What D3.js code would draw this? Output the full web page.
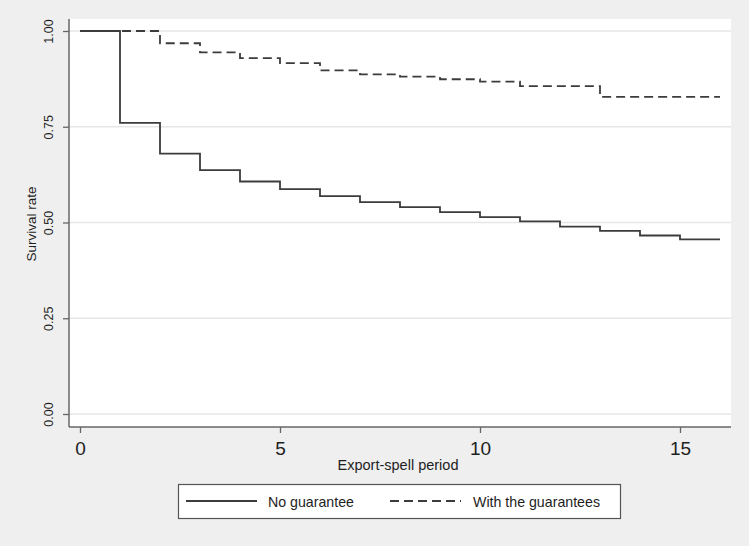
<!DOCTYPE html>
<html>
<head>
<meta charset="utf-8">
<script src="https://cdn.jsdelivr.net/npm/d3@7"></script>
<style>
  body { margin: 0; background: #efefef; }
  svg { display: block; font-family: "Liberation Sans", Arial, sans-serif; }
  .axis text { fill: #1e1e1e; }
</style>
</head>
<body>
<svg id="chart" width="749" height="546"></svg>
<script>
// survival estimates by export-spell period
const periods = [0, 1, 2, 3, 4, 5, 6, 7, 8, 9, 10, 11, 12, 13, 14, 15, 16]
const noGuarantee = [1.0, 0.760, 0.680, 0.637, 0.607, 0.587, 0.569, 0.553, 0.540, 0.527, 0.514, 0.503, 0.489, 0.478, 0.466, 0.456, 0.456]
const withGuarantees = [1.0, 1.0, 0.968, 0.944, 0.929, 0.916, 0.897, 0.887, 0.881, 0.874, 0.868, 0.856, 0.856, 0.828, 0.828, 0.828, 0.828]
const yTicks = [0, 0.25, 0.5, 0.75, 1]
const xTicks = [0, 5, 10, 15]
const seriesNames = ["No guarantee", "With the guarantees"]

const svg = d3.select("#chart")
const plot = {left: 69, right: 731, top: 19, bottom: 427}

const x = d3.scaleLinear().domain([0, 16]).range([80, 720])
const y = d3.scaleLinear().domain([0, 1]).range([414, 31])

// plot region
svg.append("rect")
  .attr("x", plot.left).attr("y", plot.top)
  .attr("width", plot.right - plot.left).attr("height", plot.bottom - plot.top)
  .attr("fill", "#fff")

// grid
svg.append("g").selectAll("line").data(yTicks).join("line")
  .attr("x1", plot.left).attr("x2", plot.right)
  .attr("y1", d => y(d)).attr("y2", d => y(d))
  .attr("stroke", "#e6e6e6").attr("stroke-width", 1.5)

// y axis
const yAxis = svg.append("g").attr("class", "axis")
  .attr("transform", `translate(${plot.left},0)`)
  .call(d3.axisLeft(y).tickValues(yTicks).tickFormat(d3.format(".2f")).tickSize(6).tickPadding(4))
yAxis.select(".domain").remove()
yAxis.selectAll(".tick line").attr("stroke", "#666").attr("stroke-width", 1.3)
yAxis.selectAll(".tick text")
  .attr("font-size", 12.5)
  .attr("transform", "rotate(-90)")
  .attr("x", 0).attr("y", -16)
  .attr("dy", 0)
  .attr("text-anchor", "middle")

// x axis
const xAxis = svg.append("g").attr("class", "axis")
  .attr("transform", `translate(0,${plot.bottom})`)
  .call(d3.axisBottom(x).tickValues(xTicks).tickSize(6).tickPadding(9))
xAxis.select(".domain").remove()
xAxis.selectAll(".tick line").attr("stroke", "#666").attr("stroke-width", 1.3)
xAxis.selectAll(".tick text").attr("font-size", 19)

// axis lines
svg.append("line")
  .attr("x1", plot.left).attr("x2", plot.left)
  .attr("y1", plot.top).attr("y2", plot.bottom)
  .attr("stroke", "#666").attr("stroke-width", 1.5)
svg.append("line")
  .attr("x1", plot.left).attr("x2", plot.right)
  .attr("y1", plot.bottom).attr("y2", plot.bottom)
  .attr("stroke", "#666").attr("stroke-width", 1.5)

// axis titles
svg.append("text")
  .attr("transform", "translate(36,224) rotate(-90)")
  .attr("text-anchor", "middle")
  .attr("font-size", 13.5).attr("fill", "#1e1e1e")
  .text("Survival rate")
svg.append("text")
  .attr("x", 398).attr("y", 470)
  .attr("text-anchor", "middle")
  .attr("font-size", 14.5).attr("fill", "#1e1e1e")
  .text("Export-spell period")

// step curves
const line = d3.line()
  .x(d => x(d[0]))
  .y(d => y(d[1]))
  .curve(d3.curveStepAfter)

svg.append("path")
  .datum(d3.zip(periods, withGuarantees))
  .attr("d", line)
  .attr("fill", "none").attr("stroke", "#3c3c3c").attr("stroke-width", 1.8)
  .attr("stroke-dasharray", "9,5")

svg.append("path")
  .datum(d3.zip(periods, noGuarantee))
  .attr("d", line)
  .attr("fill", "none").attr("stroke", "#3c3c3c").attr("stroke-width", 1.8)

// legend
const legend = svg.append("g")
legend.append("rect")
  .attr("x", 178.5).attr("y", 484.5).attr("width", 442).attr("height", 34)
  .attr("fill", "#fff").attr("stroke", "#555").attr("stroke-width", 1.2)

const legendItems = [
  {name: seriesNames[0], x0: 186, x1: 257, tx: 268, dash: null},
  {name: seriesNames[1], x0: 390, x1: 461, tx: 473, dash: "9,5"}
]
const li = legend.selectAll(".item").data(legendItems).join("g").attr("class", "item")
li.append("line")
  .attr("x1", d => d.x0).attr("x2", d => d.x1)
  .attr("y1", 501).attr("y2", 501)
  .attr("stroke", "#3c3c3c").attr("stroke-width", 1.8)
  .attr("stroke-dasharray", d => d.dash)
li.append("text")
  .attr("x", d => d.tx).attr("y", 506.5)
  .attr("font-size", 14.2).attr("fill", "#1e1e1e")
  .text(d => d.name)
</script>
</body>
</html>
